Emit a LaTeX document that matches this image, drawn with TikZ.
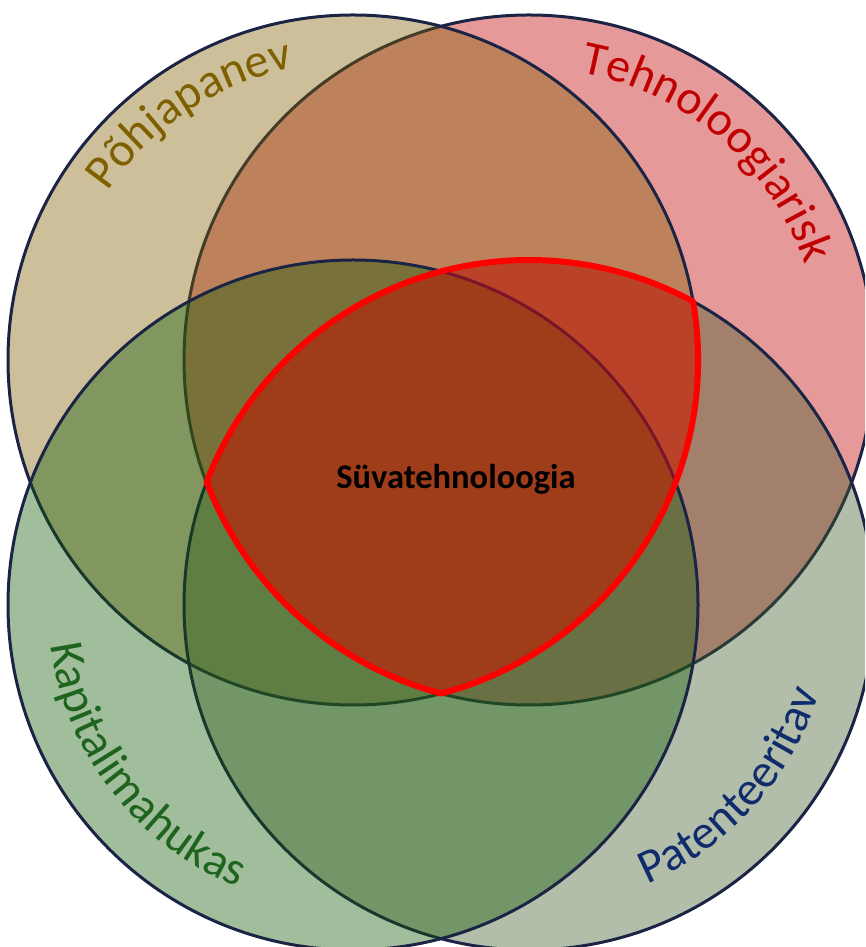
\documentclass[tikz,border=0pt]{standalone}
\usepackage{fontspec}
\setmainfont{Carlito}
\usetikzlibrary{decorations.text}
\definecolor{cA}{RGB}{127,96,0}
\definecolor{cB}{RGB}{192,0,0}
\definecolor{cC}{RGB}{18,90,8}
\definecolor{cD}{RGB}{62,92,40}
\definecolor{tC}{RGB}{30,100,30}
\definecolor{tD}{RGB}{16,44,108}
\definecolor{edge}{RGB}{27,36,69}
\tikzset{
  venn/.style={fill opacity=0.4, draw=edge, line width=3pt},
  arctext/.style={decorate, decoration={text along path, text align=center, text={#1}}},
  corepath/.style={line width=6pt, line join=round}
}
\begin{document}
\begin{tikzpicture}[x=1pt,y=1pt]
\useasboundingbox (0,0) rectangle (865,947);
\clip (0,0) rectangle (865,947);
\coordinate (c1) at (353,587);
\coordinate (c2) at (529,587);
\coordinate (c3) at (353,342);
\coordinate (c4) at (529,342);
\coordinate (va) at (206.5,464.5);
% circles
\filldraw[venn, fill=cB] (c2) circle[radius=345pt];
\filldraw[venn, fill=cA] (c1) circle[radius=345pt];
\filldraw[venn, fill=cD] (c4) circle[radius=345pt];
\filldraw[venn, fill=cC] (c3) circle[radius=345pt];
% core region
\fill[red, fill opacity=0.42] (va) arc[start angle=159.2, end angle=61.6, radius=345pt]
  arc[start angle=9.76, end angle=-75.2, radius=345pt]
  arc[start angle=255.2, end angle=200.8, radius=345pt] -- cycle;
\draw[red, corepath] (va) arc[start angle=159.2, end angle=61.6, radius=345pt]
  arc[start angle=9.76, end angle=-75.2, radius=345pt]
  arc[start angle=255.2, end angle=200.8, radius=345pt] -- cycle;
% labels
\path[arctext={|\color{cA}\fontsize{48}{58}\selectfont|Põhjapanev}]
  (c1) ++(153.5:298pt) arc[start angle=153.5, end angle=93.5, radius=298pt];
\path[arctext={|\color{cB}\fontsize{48}{58}\selectfont|Tehnoloogiarisk}]
  (c2) ++(89.5:292pt) arc[start angle=89.5, end angle=9.5, radius=292pt];
\path[arctext={|\color{tC}\fontsize{48}{58}\selectfont|Kapitalimahukas}]
  (c3) ++(177.7:305pt) arc[start angle=177.7, end angle=257.7, radius=305pt];
\path[arctext={|\color{tD}\fontsize{48}{58}\selectfont|Patenteeritav}]
  (c4) ++(288:303pt) arc[start angle=288, end angle=348, radius=303pt];
\node[font=\bfseries\fontsize{34.5}{40}\selectfont, text=black] (core) at (456,468) {Süvatehnoloogia};
\end{tikzpicture}
\end{document}
